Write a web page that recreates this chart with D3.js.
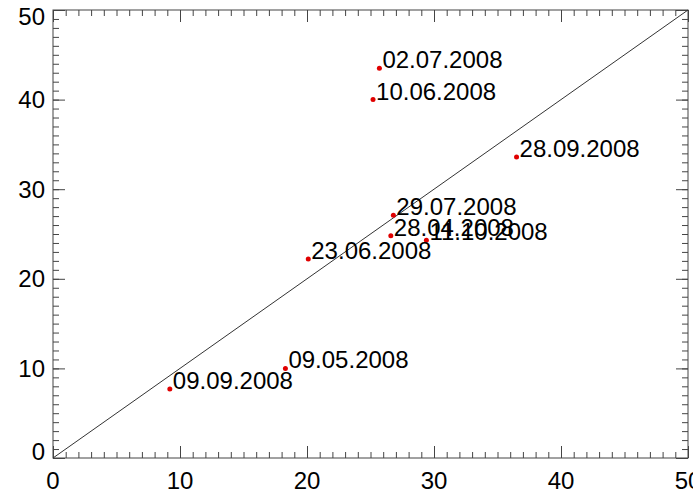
<!DOCTYPE html>
<html>
<head>
<meta charset="utf-8">
<script src="https://cdn.jsdelivr.net/npm/d3@7"></script>
<style>
  body { margin: 0; background: #fff; }
  svg { display: block; font-family: "Liberation Sans", Arial, sans-serif; }
</style>
</head>
<body>
<svg id="chart" width="693" height="496"></svg>
<script>
// dates and the values
const dates = ["02.07.2008", "10.06.2008", "28.09.2008", "29.07.2008", "28.04.2008",
               "11.10.2008", "23.06.2008", "09.05.2008", "09.09.2008"];
const xValues = [25.7, 25.2, 36.5, 26.8, 26.6, 29.4, 20.1, 18.3, 9.2];
const yValues = [43.5, 40.0, 33.6, 27.1, 24.8, 24.3, 22.2, 10.0, 7.7];
const majorTicks = [0, 10, 20, 30, 40, 50];
const minorTicks = d3.range(0, 51, 1);

const svg = d3.select("#chart");
const plotL = 53, plotR = 688, plotT = 10, plotB = 458;

const x = d3.scaleLinear().domain([0, 50]).range([plotL, plotR]);
const y = d3.scaleLinear().domain([0, 50]).range([plotB, plotT]);

const axisColor = "#444";

// frame
svg.append("rect")
    .attr("x", plotL).attr("y", plotT)
    .attr("width", plotR - plotL).attr("height", plotB - plotT)
    .attr("fill", "none").attr("stroke", axisColor).attr("stroke-width", 1);

// inward ticks on all four sides, minor then major
function ticks(axisFn, pos) {
    svg.append("g").attr("transform", pos).attr("color", axisColor)
        .call(axisFn.tickValues(minorTicks).tickSize(6).tickFormat(""))
        .select(".domain").remove();
    svg.append("g").attr("transform", pos).attr("color", axisColor)
        .call(axisFn.tickValues(majorTicks).tickSize(12).tickFormat(""))
        .select(".domain").remove();
}
ticks(d3.axisTop(x), `translate(0,${plotB})`);
ticks(d3.axisBottom(x), `translate(0,${plotT})`);
ticks(d3.axisRight(y), `translate(${plotL},0)`);
ticks(d3.axisLeft(y), `translate(${plotR},0)`);

// tick labels (end labels kept inside the frame height like the original)
svg.append("g").selectAll("text").data(majorTicks).join("text")
    .attr("x", d => x(d)).attr("y", plotB + 31)
    .attr("text-anchor", "middle")
    .attr("font-size", 24)
    .text(d => d);
svg.append("g").selectAll("text").data(majorTicks).join("text")
    .attr("x", plotL - 8)
    .attr("y", d => Math.max(plotT + 6, Math.min(plotB - 7, y(d))) + 8.5)
    .attr("text-anchor", "end")
    .attr("font-size", 24)
    .text(d => d);

// 1:1 line
svg.append("line")
    .attr("x1", x(0)).attr("y1", y(0))
    .attr("x2", x(50)).attr("y2", y(50))
    .attr("stroke", "#333").attr("stroke-width", 1);

const pts = dates.map((d, i) => ({ label: d, x: xValues[i], y: yValues[i] }));

svg.append("g").selectAll("circle").data(pts).join("circle")
    .attr("cx", d => x(d.x)).attr("cy", d => y(d.y))
    .attr("r", 2.5).attr("fill", "#e00000");

svg.append("g").selectAll("text").data(pts).join("text")
    .attr("x", d => x(d.x) + 3).attr("y", d => y(d.y))
    .attr("font-size", 24)
    .attr("fill", "#000")
    .text(d => d.label);
</script>
</body>
</html>
